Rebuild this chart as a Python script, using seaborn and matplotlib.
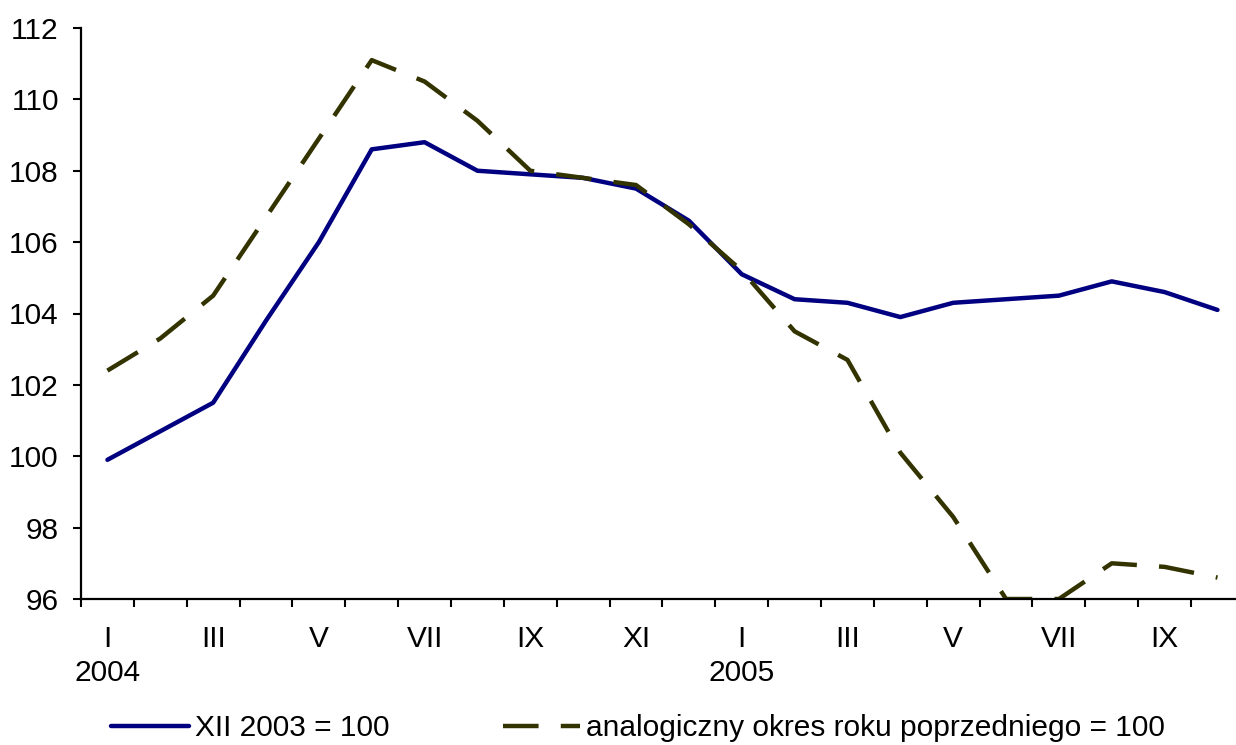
import matplotlib
matplotlib.use("Agg")
import matplotlib.pyplot as plt
from matplotlib.ticker import FixedLocator
import seaborn as sns
import pandas as pd
import numpy as np

# ---- data ----
months = ["I", "II", "III", "IV", "V", "VI", "VII", "VIII", "IX", "X", "XI", "XII",
          "I", "II", "III", "IV", "V", "VI", "VII", "VIII", "IX", "X"]
years = ["2004"] * 12 + ["2005"] * 10
series_names = ["XII 2003 = 100", "analogiczny okres roku poprzedniego = 100"]
base_dec2003 = [99.9, 100.7, 101.5, 103.8, 106.0, 108.6, 108.8, 108.0, 107.9, 107.8, 107.5, 106.6,
                105.1, 104.4, 104.3, 103.9, 104.3, 104.4, 104.5, 104.9, 104.6, 104.1]
base_prev_year = [102.4, 103.3, 104.5, 106.7, 108.9, 111.1, 110.5, 109.4, 108.0, 107.8, 107.6, 106.5,
                  105.2, 103.5, 102.7, 100.1, 98.3, 96.0, 96.0, 97.0, 96.9, 96.6]
y_ticks = [96, 98, 100, 102, 104, 106, 108, 110, 112]

colors = {series_names[0]: "#000080", series_names[1]: "#333300"}
dash_map = {series_names[0]: "", series_names[1]: (8.0, 5.0)}

sns.set_theme(style="white")
plt.rcParams["font.family"] = ["Liberation Sans", "DejaVu Sans"]
plt.rcParams["text.color"] = "black"
FS = 21.5

n = len(months)
df = pd.DataFrame({
    "pos": list(range(n)) * 2,
    "value": base_dec2003 + base_prev_year,
    "series": [series_names[0]] * n + [series_names[1]] * n,
})

fig = plt.figure(figsize=(12.36, 7.45), dpi=100)
W, H = 1236, 745
left_px, right_px, top_px, bot_px = 81, 81 + 22 * 52.86, 28, 599
ax = fig.add_axes([left_px / W, 1 - bot_px / H, (right_px - left_px) / W, (bot_px - top_px) / H])

sns.lineplot(data=df, x="pos", y="value", hue="series", style="series",
             palette=colors, dashes=dash_map, linewidth=3.2, ax=ax, legend=False,
             sort=False)

ax.set_xlim(-0.5, n - 0.5)
ax.set_ylim(96, 112)
ax.set_xlabel("")
ax.set_ylabel("")

for s in ["top", "right"]:
    ax.spines[s].set_visible(False)
for s in ["left", "bottom"]:
    ax.spines[s].set_color("black")
    ax.spines[s].set_linewidth(1.6)

ax.set_yticks(y_ticks)
ax.set_yticklabels([str(v) for v in y_ticks], fontsize=FS, color="black")
ax.tick_params(axis="y", left=True, direction="out", length=6, width=1.5, pad=10,
               colors="black", labelcolor="black")

# boundaries as major ticks, labels at centres as minor ticks
ax.xaxis.set_major_locator(FixedLocator(np.arange(-0.5, n + 0.5, 1.0)))
ax.xaxis.set_major_formatter(plt.NullFormatter())
label_pos = list(range(0, n, 2))
labels = []
for i in label_pos:
    if i == 0 or years[i] != years[i - 1]:
        labels.append(months[i] + "\n" + years[i])
    else:
        labels.append(months[i])
ax.xaxis.set_minor_locator(FixedLocator(label_pos))
ax.set_xticklabels(labels, minor=True, fontsize=FS, color="black")
ax.tick_params(axis="x", which="major", bottom=True, direction="out", length=6, width=1.5,
               colors="black")
ax.tick_params(axis="x", which="minor", bottom=True, length=0, pad=19, labelcolor="black")
for t in ax.get_xticklabels(minor=True):
    t.set_linespacing(1.25)

ax.grid(False)

handles = ax.get_lines()[:2]
leg = fig.legend(handles, series_names, loc="center", ncol=2,
                 bbox_to_anchor=(638 / W, 1 - 728 / H), frameon=False,
                 fontsize=FS, handlelength=2.6, handletextpad=0.2, columnspacing=3.8,
                 borderpad=0, borderaxespad=0)
for t in leg.get_texts():
    t.set_color("black")

fig.savefig("out.png", dpi=100)
